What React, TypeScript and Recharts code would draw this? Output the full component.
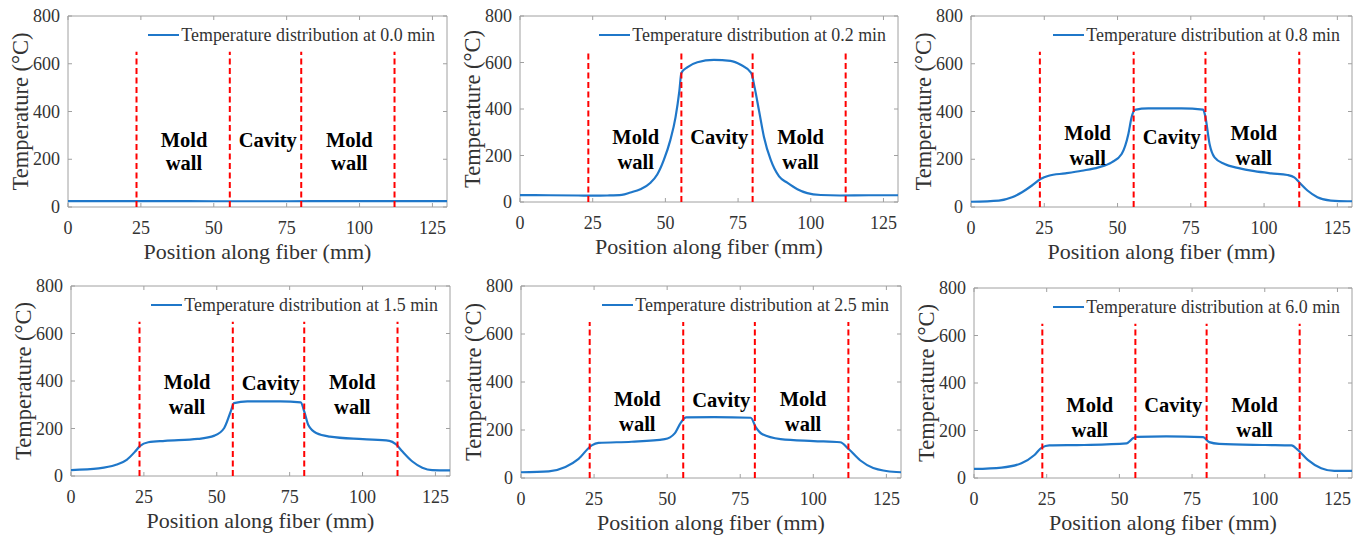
import React from "react";
import { LineChart, Line, XAxis, YAxis, ReferenceLine, ReferenceArea, ReferenceDot } from "recharts";

const FONT = "'Liberation Serif', Tinos, 'DejaVu Serif', serif";
const BLUE = "#1f77c9";
const AXIS_GRAY = "#a0a0a0";
const TEXT = "#333";

// x ticks / y ticks
const xTicks = [0, 25, 50, 75, 100, 125];
const yTicks = [0, 200, 400, 600, 800];

// mold wall / cavity boundaries (mm)
const boundaries = [23.5, 55.5, 80, 112];

// time labels (min)
const times = ["0.0", "0.2", "0.8", "1.5", "2.5", "6.0"];

// readings per panel: position (mm) / temperature (°C)
const pos00 = [0, 25, 50, 75, 100, 130];
const temp00 = [25, 25, 24, 24, 25, 25];

const pos02 = [0, 10, 20, 25, 30, 35, 38, 41.4, 44.9, 47.2, 49.5, 51.7, 53.5, 54.8, 55.5, 57.5, 61, 66.7, 72.4, 75.9, 79.5, 80.7, 82.2, 83.9, 86.2, 89.1, 91.9, 95.4, 98.8, 103.4, 110, 120, 130];
const temp02 = [30, 29, 28, 27, 28, 31, 41, 55, 83, 118, 182, 266, 365, 477, 555, 579, 601, 611, 607, 590, 555, 492, 393, 280, 182, 110, 83, 55, 38, 30, 28, 29, 29];

const pos08 = [0, 9.5, 14, 17.4, 20.8, 23.7, 26.5, 32.2, 37.8, 43.5, 48, 51.4, 53.7, 54.8, 55.9, 60.5, 71.8, 79.2, 80, 81.4, 83.1, 86.5, 91, 96.7, 102.4, 108, 110.3, 112, 114.8, 118.2, 122.8, 128.4, 130];
const temp08 = [22, 27, 41, 62, 90, 117, 131, 141, 152, 166, 187, 222, 306, 376, 407, 413, 413, 408, 376, 264, 208, 180, 164, 150, 141, 134, 124, 103, 69, 41, 27, 24, 24];

const pos15 = [0, 9.5, 15.2, 19.1, 22, 23.7, 26.5, 32.2, 43.5, 49.2, 52.5, 54.8, 55.9, 60.5, 71.8, 78.8, 80, 81.4, 84.3, 88.8, 100.1, 109.2, 111.4, 113.7, 117.1, 120.5, 123.9, 130];
const temp15 = [25, 32, 46, 68, 103, 127, 142, 148, 156, 170, 201, 272, 307, 314, 314, 310, 272, 215, 180, 166, 155, 148, 134, 103, 61, 35, 25, 24];

const pos25 = [0, 9.5, 15.2, 19.7, 24.2, 26.5, 37.8, 49.2, 52.5, 54.8, 56.5, 66.1, 78.6, 80.3, 82.6, 88.8, 100.1, 109.2, 112, 116, 120.5, 128.4, 130];
const temp25 = [24, 28, 46, 80, 136, 146, 151, 162, 185, 233, 253, 254, 251, 212, 182, 162, 154, 149, 122, 74, 42, 25, 24];

const pos60 = [0, 9.5, 16.3, 20.8, 23.3, 25.9, 37.8, 52.5, 54.8, 55.9, 66.1, 78.8, 80.9, 84.3, 100.1, 109.2, 111.4, 114.8, 119.4, 123.9, 130];
const temp60 = [38, 44, 62, 97, 128, 137, 139, 146, 168, 173, 175, 172, 151, 144, 139, 137, 118, 76, 41, 30, 30];

const positions = [pos00, pos02, pos08, pos15, pos25, pos60];
const temps = [temp00, temp02, temp08, temp15, temp25, temp60];

// region annotations (data coords)
const regionX = [39.8, 68.5, 96.5];
const moldY = [280, 281, 310, 397, 332, 307];
const wallY = [184, 173, 205, 292, 228, 202];
const cavityY = [280, 281, 293, 393, 328, 307];

// plot rectangles on the page
const plots = [
  { left: 68, top: 16, width: 379, height: 191 },
  { left: 520, top: 16, width: 378, height: 186 },
  { left: 971, top: 16, width: 381, height: 191 },
  { left: 71, top: 286, width: 379, height: 190 },
  { left: 521, top: 286, width: 380, height: 192 },
  { left: 974, top: 288, width: 378, height: 190 },
];

const Y_W = 68;
const X_H = 62;
const M_TOP = 16;
const M_RIGHT = 12;

function Panel({ idx }: { idx: number }) {
  const plot = plots[idx];
  const data = positions[idx].map((x, i) => ({ x, t: temps[idx][i] }));
  const W = plot.width + Y_W + M_RIGHT;
  const H = plot.height + M_TOP + X_H;
  const pTop = M_TOP;
  const pBottom = M_TOP + plot.height;
  const pLeft = Y_W;
  const pRight = Y_W + plot.width;

  const XTick = (props: any) => {
    const { x, payload } = props;
    return (
      <g>
        <line x1={x} x2={x} y1={pBottom} y2={pBottom - 4} stroke={AXIS_GRAY} />
        <line x1={x} x2={x} y1={pTop} y2={pTop + 4} stroke={AXIS_GRAY} />
        <text x={x} y={pBottom + 21} textAnchor="middle" dominantBaseline="central"
          style={{ fontFamily: FONT }} fontSize={18} fill={TEXT}>{payload.value}</text>
      </g>
    );
  };

  const YTick = (props: any) => {
    const { y, payload } = props;
    return (
      <g>
        <line x1={pLeft} x2={pLeft + 4} y1={y} y2={y} stroke={AXIS_GRAY} />
        <line x1={pRight - 4} x2={pRight} y1={y} y2={y} stroke={AXIS_GRAY} />
        <text x={pLeft - 8} y={y} textAnchor="end" dominantBaseline="central"
          style={{ fontFamily: FONT }} fontSize={18} fill={TEXT}>{payload.value}</text>
      </g>
    );
  };

  const regionLabel = (value: string) => ({
    value,
    position: "center" as const,
    fill: "#000",
    fontSize: 20.5,
    fontWeight: "bold",
    style: { fontFamily: FONT },
  });

  return (
    <div style={{ position: "absolute", left: plot.left - Y_W, top: plot.top - M_TOP, width: W, height: H, fontFamily: FONT }}>
      <LineChart width={W} height={H} data={data} margin={{ top: M_TOP, right: M_RIGHT, bottom: 0, left: 0 }} style={{ fontFamily: FONT }}>
        <XAxis
          type="number"
          dataKey="x"
          domain={[0, 130]}
          ticks={xTicks}
          allowDataOverflow
          axisLine={false}
          tickLine={false}
          height={X_H}
          tick={XTick}
          label={{ value: "Position along fiber (mm)", position: "insideBottom", offset: 10, fill: TEXT, fontSize: 22, style: { fontFamily: FONT } }}
        />
        <YAxis
          type="number"
          domain={[0, 800]}
          ticks={yTicks}
          allowDataOverflow
          axisLine={false}
          tickLine={false}
          width={Y_W}
          tick={YTick}
          label={{ value: "Temperature (°C)", angle: -90, position: "insideLeft", offset: 20, style: { textAnchor: "middle", fontFamily: FONT }, fill: TEXT, fontSize: 22.5 }}
        />
        <ReferenceArea x1={0} x2={130} y1={0} y2={800} fill="none" stroke={AXIS_GRAY} strokeWidth={1} />
        <Line type="monotone" dataKey="t" stroke={BLUE} strokeWidth={2.2} dot={false} isAnimationActive={false} />
        {boundaries.map((b) => (
          <ReferenceLine key={b} segment={[{ x: b, y: 0 }, { x: b, y: 650 }]} stroke="#ff0000" strokeWidth={2} strokeDasharray="6 3.5" />
        ))}
        <ReferenceDot x={regionX[0]} y={moldY[idx]} r={0} fill="none" stroke="none" label={regionLabel("Mold")} />
        <ReferenceDot x={regionX[0]} y={wallY[idx]} r={0} fill="none" stroke="none" label={regionLabel("wall")} />
        <ReferenceDot x={regionX[1]} y={cavityY[idx]} r={0} fill="none" stroke="none" label={regionLabel("Cavity")} />
        <ReferenceDot x={regionX[2]} y={moldY[idx]} r={0} fill="none" stroke="none" label={regionLabel("Mold")} />
        <ReferenceDot x={regionX[2]} y={wallY[idx]} r={0} fill="none" stroke="none" label={regionLabel("wall")} />
      </LineChart>
      <div style={{ position: "absolute", right: M_RIGHT + 12, top: M_TOP + 9, height: 20, display: "flex", alignItems: "center" }}>
        <span style={{ display: "inline-block", width: 31, height: 2.2, background: BLUE, marginRight: 2 }} />
        <span style={{ fontFamily: FONT, fontSize: 17.9, color: TEXT, whiteSpace: "nowrap", lineHeight: "20px" }}>
          {`Temperature distribution at ${times[idx]} min`}
        </span>
      </div>
    </div>
  );
}

export default function App() {
  return (
    <div style={{ position: "absolute", left: 0, top: 0, width: 1364, height: 536, background: "#fff", overflow: "hidden" }}>
      {plots.map((_, i) => (
        <Panel key={i} idx={i} />
      ))}
    </div>
  );
}
